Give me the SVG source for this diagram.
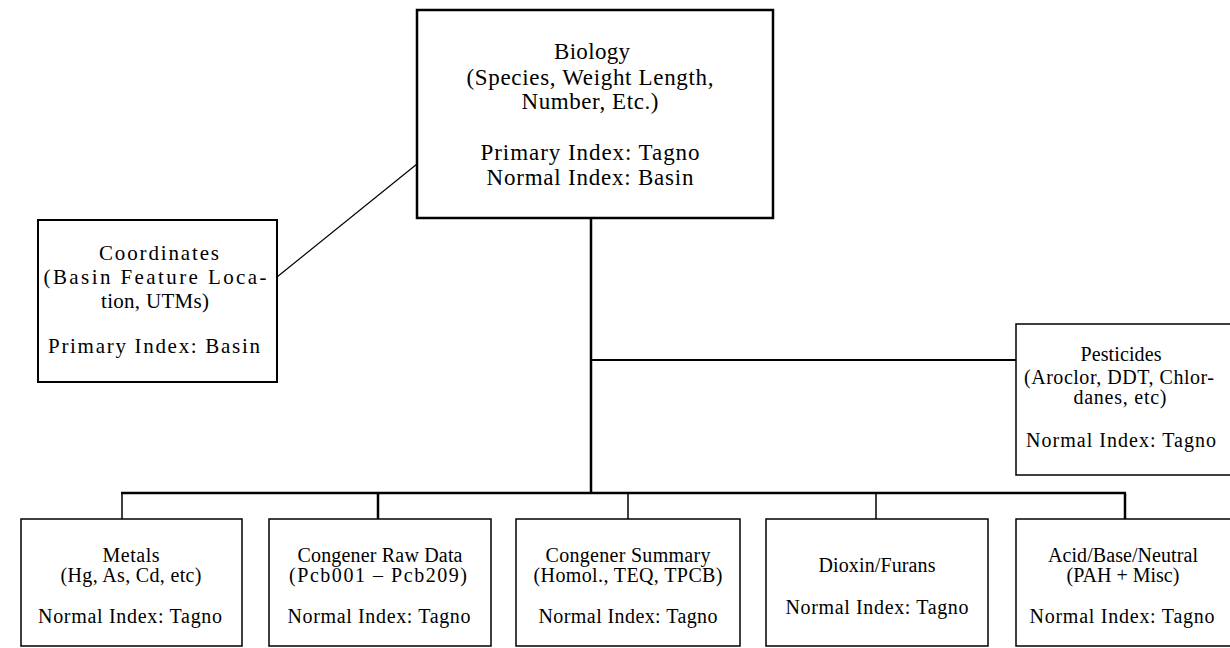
<svg xmlns="http://www.w3.org/2000/svg" width="1230" height="648" viewBox="0 0 1230 648">
<style>
  .box { fill: #ffffff; stroke: #000000; }
  .thick { stroke-width: 2.5; }
  .mid { stroke-width: 2; }
  .thin { stroke-width: 1.5; }
  text { font-family: "Liberation Serif", "Times New Roman", serif; fill: #000000; text-anchor: middle; }
  .big { font-size: 23px; }
  .coord { font-size: 21px; }
  .small { font-size: 20px; }
  .conn line { stroke: #000000; fill: none; }
</style>
<rect x="0" y="0" width="1230" height="648" fill="#ffffff"/>
<g id="connectors" class="conn">
  <line x1="277" y1="277" x2="417" y2="164" stroke-width="1.2"/>
  <line x1="591" y1="218" x2="591" y2="493" stroke-width="2.5"/>
  <line x1="591" y1="360" x2="1016" y2="360" stroke-width="2"/>
  <line x1="121" y1="493" x2="1126" y2="493" stroke-width="2.5"/>
  <line x1="122" y1="493" x2="122" y2="519" stroke-width="1.5"/>
  <line x1="378" y1="493" x2="378" y2="519" stroke-width="2.5"/>
  <line x1="628" y1="493" x2="628" y2="519" stroke-width="1.5"/>
  <line x1="876" y1="493" x2="876" y2="519" stroke-width="1.5"/>
  <line x1="1125" y1="493" x2="1125" y2="519" stroke-width="2.5"/>
</g>
<g id="biology">
  <rect class="box thick" x="417" y="10" width="356" height="208"/>
  <text class="big" x="592" y="59" textLength="76" lengthAdjust="spacing">Biology</text>
  <text class="big" x="590" y="85" textLength="247" lengthAdjust="spacing">(Species, Weight Length,</text>
  <text class="big" x="590" y="109" textLength="137" lengthAdjust="spacing">Number, Etc.)</text>
  <text class="big" x="590" y="160" textLength="219" lengthAdjust="spacing">Primary Index:  Tagno</text>
  <text class="big" x="590" y="185" textLength="207" lengthAdjust="spacing">Normal Index:  Basin</text>
</g>
<g id="coordinates">
  <rect class="box mid" x="38" y="220" width="239" height="162"/>
  <text class="coord" x="159" y="260" textLength="120" lengthAdjust="spacing">Coordinates</text>
  <text class="coord" x="155" y="284" textLength="223" lengthAdjust="spacing">(Basin Feature Loca-</text>
  <text class="coord" x="155" y="308" textLength="108" lengthAdjust="spacing">tion, UTMs)</text>
  <text class="coord" x="154" y="353" textLength="212" lengthAdjust="spacing">Primary Index: Basin</text>
</g>
<g id="pesticides">
  <rect class="box thin" x="1016" y="324" width="216" height="151"/>
  <text class="small" x="1121" y="361" textLength="81" lengthAdjust="spacing">Pesticides</text>
  <text class="small" x="1119" y="384" textLength="190" lengthAdjust="spacing">(Aroclor, DDT, Chlor-</text>
  <text class="small" x="1120" y="404" textLength="93" lengthAdjust="spacing">danes, etc)</text>
  <text class="small" x="1121" y="447" textLength="190" lengthAdjust="spacing">Normal Index:  Tagno</text>
</g>
<g id="metals">
  <rect class="box thin" x="21" y="519" width="221" height="127"/>
  <text class="small" x="131" y="562" textLength="57" lengthAdjust="spacing">Metals</text>
  <text class="small" x="131" y="582" textLength="141" lengthAdjust="spacing">(Hg, As, Cd, etc)</text>
  <text class="small" x="130" y="623" textLength="184" lengthAdjust="spacing">Normal Index:  Tagno</text>
</g>
<g id="congener-raw">
  <rect class="box thin" x="269" y="519" width="222" height="127"/>
  <text class="small" x="380" y="562" textLength="165" lengthAdjust="spacing">Congener Raw Data</text>
  <text class="small" x="378" y="582" textLength="178" lengthAdjust="spacing">(Pcb001 – Pcb209)</text>
  <text class="small" x="379" y="623" textLength="183" lengthAdjust="spacing">Normal Index:  Tagno</text>
</g>
<g id="congener-summary">
  <rect class="box thin" x="516" y="519" width="224" height="127"/>
  <text class="small" x="628" y="562" textLength="165" lengthAdjust="spacing">Congener Summary</text>
  <text class="small" x="628" y="582" textLength="189" lengthAdjust="spacing">(Homol., TEQ, TPCB)</text>
  <text class="small" x="628" y="623" textLength="179" lengthAdjust="spacing">Normal Index: Tagno</text>
</g>
<g id="dioxin-furans">
  <rect class="box thin" x="766" y="519" width="222" height="127"/>
  <text class="small" x="877" y="572" textLength="117" lengthAdjust="spacing">Dioxin/Furans</text>
  <text class="small" x="877" y="614" textLength="183" lengthAdjust="spacing">Normal Index:  Tagno</text>
</g>
<g id="acid-base-neutral">
  <rect class="box thin" x="1016" y="519" width="216" height="127"/>
  <text class="small" x="1123" y="562" textLength="150" lengthAdjust="spacing">Acid/Base/Neutral</text>
  <text class="small" x="1123" y="582">(PAH + Misc)</text>
  <text class="small" x="1122" y="623" textLength="185" lengthAdjust="spacing">Normal Index:  Tagno</text>
</g>
</svg>
